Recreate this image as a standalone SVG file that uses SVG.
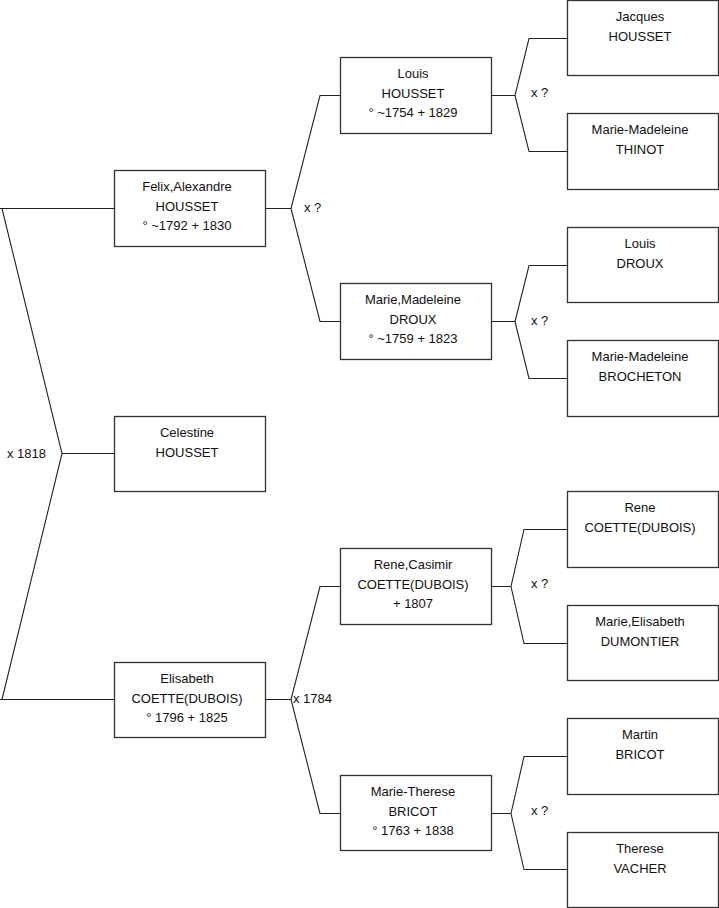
<svg xmlns="http://www.w3.org/2000/svg" width="719" height="908" viewBox="0 0 719 908">
<style>
.box{fill:#fff;stroke:#333;stroke-width:1.3}
.t{font-family:"Liberation Sans",Arial,sans-serif;font-size:13px;fill:#111;text-anchor:middle}
.l{font-family:"Liberation Sans",Arial,sans-serif;font-size:13px;fill:#111}
.c{fill:none;stroke:#222;stroke-width:1.1}
</style>
<rect width="719" height="908" fill="#fff"/>
<g id="connectors">
<path class="c" d="M0,208.5 H114 M2,208.5 L62,453.5 L2,699.5 M62,453.5 H114 M0,699.5 H114"/>
<path class="c" d="M265,208.5 H291 M340,95.5 H320 L291,208.5 L320,321.5 H340"/>
<path class="c" d="M491,95.5 H515 M567,38.5 H529 L515,95.5 L529,151.5 H567"/>
<path class="c" d="M491,321.5 H515 M567,265.5 H529 L515,321.5 L529,378.5 H567"/>
<path class="c" d="M265,699.5 H291 M340,586.5 H320 L291,699.5 L320,813.5 H340"/>
<path class="c" d="M491,586.5 H511 M567,529.5 H524 L511,586.5 L524,643.5 H567"/>
<path class="c" d="M491,813.5 H511 M567,756.5 H524 L511,813.5 L524,869.5 H567"/>
<text class="l" x="7" y="458">x 1818</text>
<text class="l" x="304" y="212">x ?</text>
<text class="l" x="293" y="703">x 1784</text>
<text class="l" x="531" y="97">x ?</text>
<text class="l" x="531" y="325">x ?</text>
<text class="l" x="531" y="588">x ?</text>
<text class="l" x="531" y="815">x ?</text>
</g>
<g id="felix"><rect class="box" x="114.5" y="170.5" width="151" height="76"/><text class="t" x="187" y="191">Felix,Alexandre</text><text class="t" x="187" y="211">HOUSSET</text><text class="t" x="187" y="230">° ~1792 + 1830</text></g>
<g id="celestine"><rect class="box" x="114.5" y="416.5" width="151" height="75"/><text class="t" x="187" y="437">Celestine</text><text class="t" x="187" y="457">HOUSSET</text></g>
<g id="elisabeth"><rect class="box" x="114.5" y="662.5" width="151" height="75"/><text class="t" x="187" y="683">Elisabeth</text><text class="t" x="187" y="703">COETTE(DUBOIS)</text><text class="t" x="187" y="722">° 1796 + 1825</text></g>
<g id="louis-housset"><rect class="box" x="340.5" y="57.5" width="151" height="76"/><text class="t" x="413" y="78">Louis</text><text class="t" x="413" y="98">HOUSSET</text><text class="t" x="413" y="117">° ~1754 + 1829</text></g>
<g id="marie-madeleine-droux"><rect class="box" x="340.5" y="283.5" width="151" height="76"/><text class="t" x="413" y="304">Marie,Madeleine</text><text class="t" x="413" y="324">DROUX</text><text class="t" x="413" y="343">° ~1759 + 1823</text></g>
<g id="rene-casimir"><rect class="box" x="340.5" y="548.5" width="151" height="76"/><text class="t" x="413" y="569">Rene,Casimir</text><text class="t" x="413" y="589">COETTE(DUBOIS)</text><text class="t" x="413" y="608">+ 1807</text></g>
<g id="marie-therese"><rect class="box" x="340.5" y="775.5" width="151" height="75"/><text class="t" x="413" y="796">Marie-Therese</text><text class="t" x="413" y="816">BRICOT</text><text class="t" x="413" y="835">° 1763 + 1838</text></g>
<g id="jacques"><rect class="box" x="567.5" y="0.5" width="151" height="75"/><text class="t" x="640" y="21">Jacques</text><text class="t" x="640" y="41">HOUSSET</text></g>
<g id="thinot"><rect class="box" x="567.5" y="113.5" width="151" height="76"/><text class="t" x="640" y="134">Marie-Madeleine</text><text class="t" x="640" y="154">THINOT</text></g>
<g id="louis-droux"><rect class="box" x="567.5" y="227.5" width="151" height="75"/><text class="t" x="640" y="248">Louis</text><text class="t" x="640" y="268">DROUX</text></g>
<g id="brocheton"><rect class="box" x="567.5" y="340.5" width="151" height="76"/><text class="t" x="640" y="361">Marie-Madeleine</text><text class="t" x="640" y="381">BROCHETON</text></g>
<g id="rene-coette"><rect class="box" x="567.5" y="491.5" width="151" height="76"/><text class="t" x="640" y="512">Rene</text><text class="t" x="640" y="532">COETTE(DUBOIS)</text></g>
<g id="dumontier"><rect class="box" x="567.5" y="605.5" width="151" height="75"/><text class="t" x="640" y="626">Marie,Elisabeth</text><text class="t" x="640" y="646">DUMONTIER</text></g>
<g id="martin"><rect class="box" x="567.5" y="718.5" width="151" height="76"/><text class="t" x="640" y="739">Martin</text><text class="t" x="640" y="759">BRICOT</text></g>
<g id="therese"><rect class="box" x="567.5" y="832.5" width="151" height="75"/><text class="t" x="640" y="853">Therese</text><text class="t" x="640" y="873">VACHER</text></g>
</svg>
